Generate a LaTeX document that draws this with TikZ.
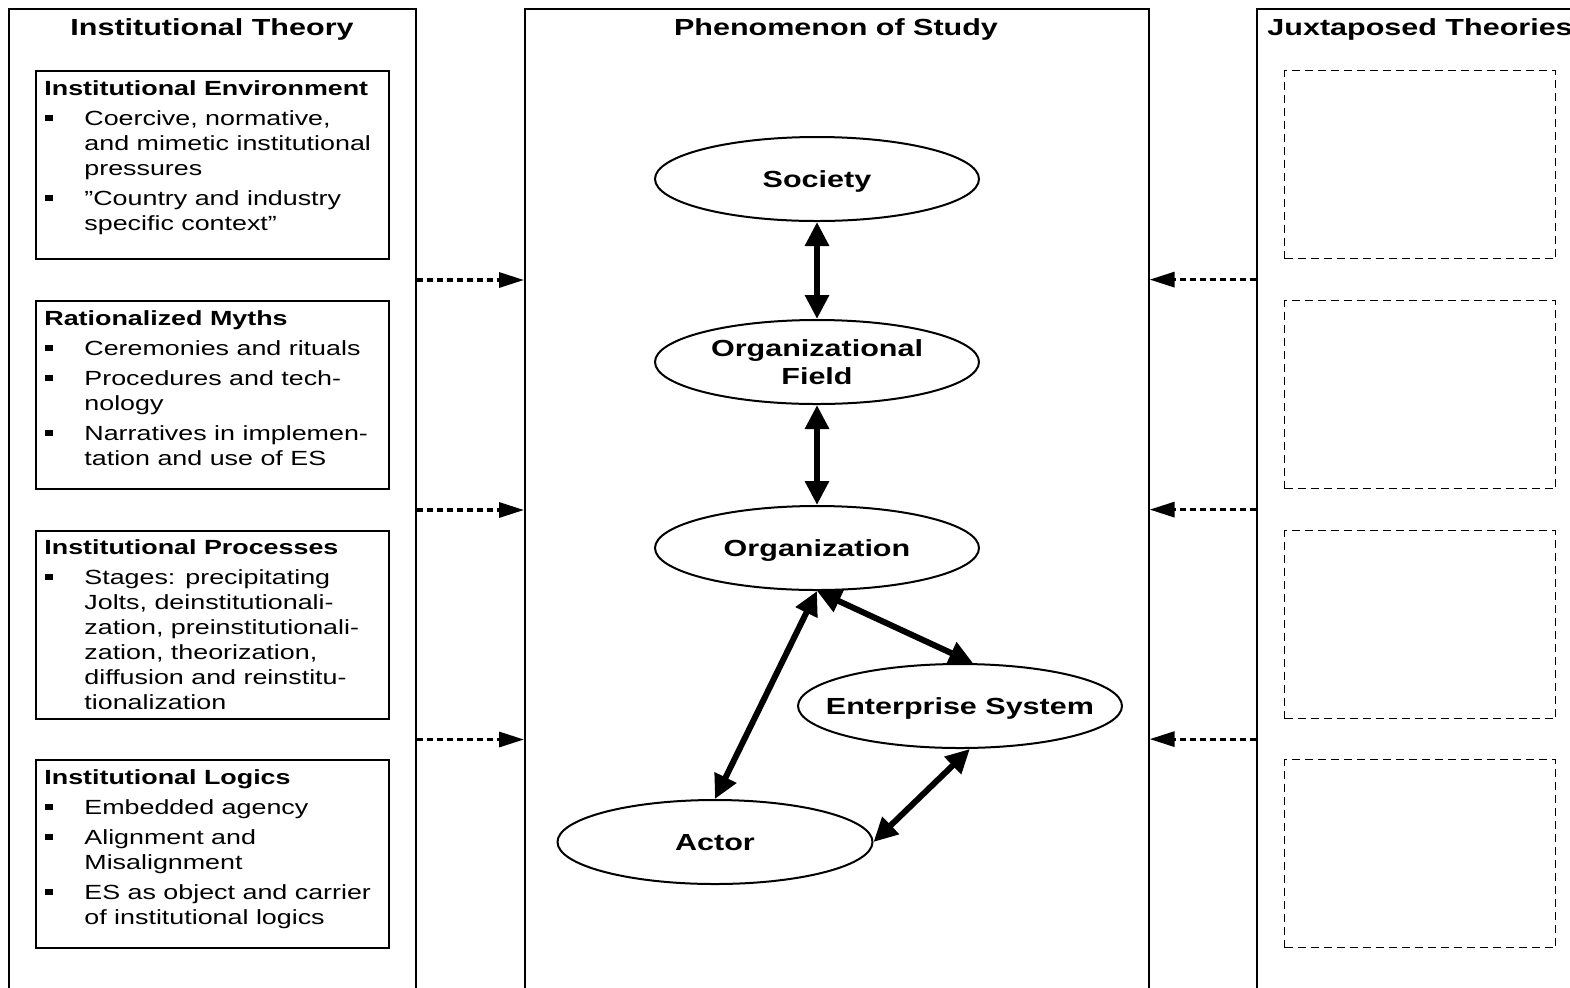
\documentclass[tikz,border=0pt]{standalone}
\usepackage{fontspec}
\setmainfont{Liberation Sans}[FakeStretch=1.31]
\usetikzlibrary{shapes.geometric,arrows.meta,calc}

% bullet item with hanging indent
\newcommand\itm[1]{\par\hangindent=20pt\hangafter=1\noindent
  \makebox[20pt][l]{\hspace{0.5pt}\rule[1.8pt]{3.7pt}{3.4pt}}#1}
% text block of a concept box
\newcommand\blk[1]{\parbox[t]{230pt}{\raggedright
  \fontsize{10.25pt}{12.5pt}\selectfont\parskip=2.5pt #1}}

\tikzset{
  panel/.style={draw, line width=1pt, rectangle, inner sep=0pt, anchor=north west,
    minimum height=496pt},
  concept/.style={draw, line width=1pt, rectangle, inner sep=0pt, anchor=north west,
    minimum width=176.5pt, minimum height=94pt},
  slot/.style={draw, line width=0.6pt, dash pattern=on 4pt off 2.5pt, rectangle,
    inner sep=0pt, anchor=north west, minimum width=135.5pt, minimum height=94pt},
  ptitle/.style={font=\bfseries\fontsize{11.65pt}{14pt}\selectfont, inner sep=0pt},
  body/.style={anchor=base west, inner sep=0pt},
  level/.style={ellipse, draw, line width=1pt, minimum width=162pt, minimum height=42pt,
    inner sep=0pt, text depth=0pt, align=center,
    font=\bfseries\fontsize{11.65pt}{14pt}\selectfont},
  link/.style={line width=3pt,
    {Triangle[length=12pt,width=11.5pt]}-{Triangle[length=12pt,width=11.5pt]}},
  feed/.style={line width=1.6pt, dash pattern=on 3.2pt off 1.8pt,
    -{Triangle[length=12.5pt,width=7.5pt]}}
}

\begin{document}
\begin{tikzpicture}[x=0.5pt,y=-0.5pt]
\useasboundingbox (0,0) rectangle (1570,987);
\clip (0,0) rectangle (1570,987);

% three columns
\node[panel, minimum width=203.5pt] (lt) at (8,8) {};
\node[panel, minimum width=312pt, line width=0.8pt] (ct) at (524,8) {};
\node[panel, minimum width=172pt] (rt) at (1256,8) {};

\node[ptitle, anchor=base] (ltt) at (212,35) {Institutional Theory};
\node[ptitle, anchor=base] (ctt) at (836,35) {Phenomenon of Study};
\node[ptitle, anchor=base west] (rtt) at (1267,35) {Juxtaposed Theories};

% institutional theory concepts
\node[concept] (b1) at (35,70) {};
\node[concept] (b2) at (35,300) {};
\node[concept] (b3) at (35,530) {};
\node[concept] (b4) at (35,759) {};

\node[body] (t1) at (44,95) {\blk{\textbf{Institutional Environment}
  \itm{Coercive, normative,\newline and mimetic institutional\newline pressures}
  \itm{”Country and industry\newline specific context”}}};
\node[body] (t2) at (44,325) {\blk{\textbf{Rationalized Myths}
  \itm{Ceremonies and rituals}
  \itm{Procedures and tech-\newline nology}
  \itm{Narratives in implemen-\newline tation and use of ES}}};
\node[body] (t3) at (44,554) {\blk{\textbf{Institutional Processes}
  \itm{Stages: precipitating\newline Jolts, deinstitutionali-\newline zation, preinstitutionali-\newline zation, theorization,\newline diffusion and reinstitu-\newline tionalization}}};
\node[body] (t4) at (44,784) {\blk{\textbf{Institutional Logics}
  \itm{Embedded agency}
  \itm{Alignment and\newline Misalignment}
  \itm{ES as object and carrier\newline of institutional logics}}};

% empty slots for juxtaposed theories
\node[slot] (s1) at (1284,70) {};
\node[slot] (s2) at (1284,300) {};
\node[slot] (s3) at (1284,530) {};
\node[slot] (s4) at (1284,759) {};

% levels of the phenomenon
\node[level] (soc) at (817,179) {Society};
\node[level] (fld) at (817,362) {Organizational\\Field};
\node[level] (org) at (817,548) {Organization};
\node[level] (es) at (960,706) {\makebox[0pt]{Enterprise System}};
\node[level, minimum width=157.5pt] (act) at (715,842) {Actor};

\draw[link] (soc) -- (fld);
\draw[link] (fld) -- (org);
\draw[link] (org.south) -- (es.73);
\draw[link] (org.south) -- (act.north);
\draw[link] (es.-77) -- (act.east);

% influences from both sides
\coordinate (g1) at ($(b1.south)!0.5!(b2.north)$);
\coordinate (g2) at ($(b2.south)!0.5!(b3.north)$);
\coordinate (g3) at ($(b3.south)!0.5!(b4.north)$);
\coordinate (h1) at ($(s1.south)!0.5!(s2.north)$);
\coordinate (h2) at ($(s2.south)!0.5!(s3.north)$);
\coordinate (h3) at ($(s3.south)!0.5!(s4.north)$);

\draw[feed] (lt.east |- g1) -- (ct.west |- g1);
\draw[feed] (lt.east |- g2) -- (ct.west |- g2);
\draw[feed] (lt.east |- g3) -- (ct.west |- g3);
\draw[feed] (rt.west |- h1) -- (ct.east |- h1);
\draw[feed] (rt.west |- h2) -- (ct.east |- h2);
\draw[feed] (rt.west |- h3) -- (ct.east |- h3);
\end{tikzpicture}
\end{document}
